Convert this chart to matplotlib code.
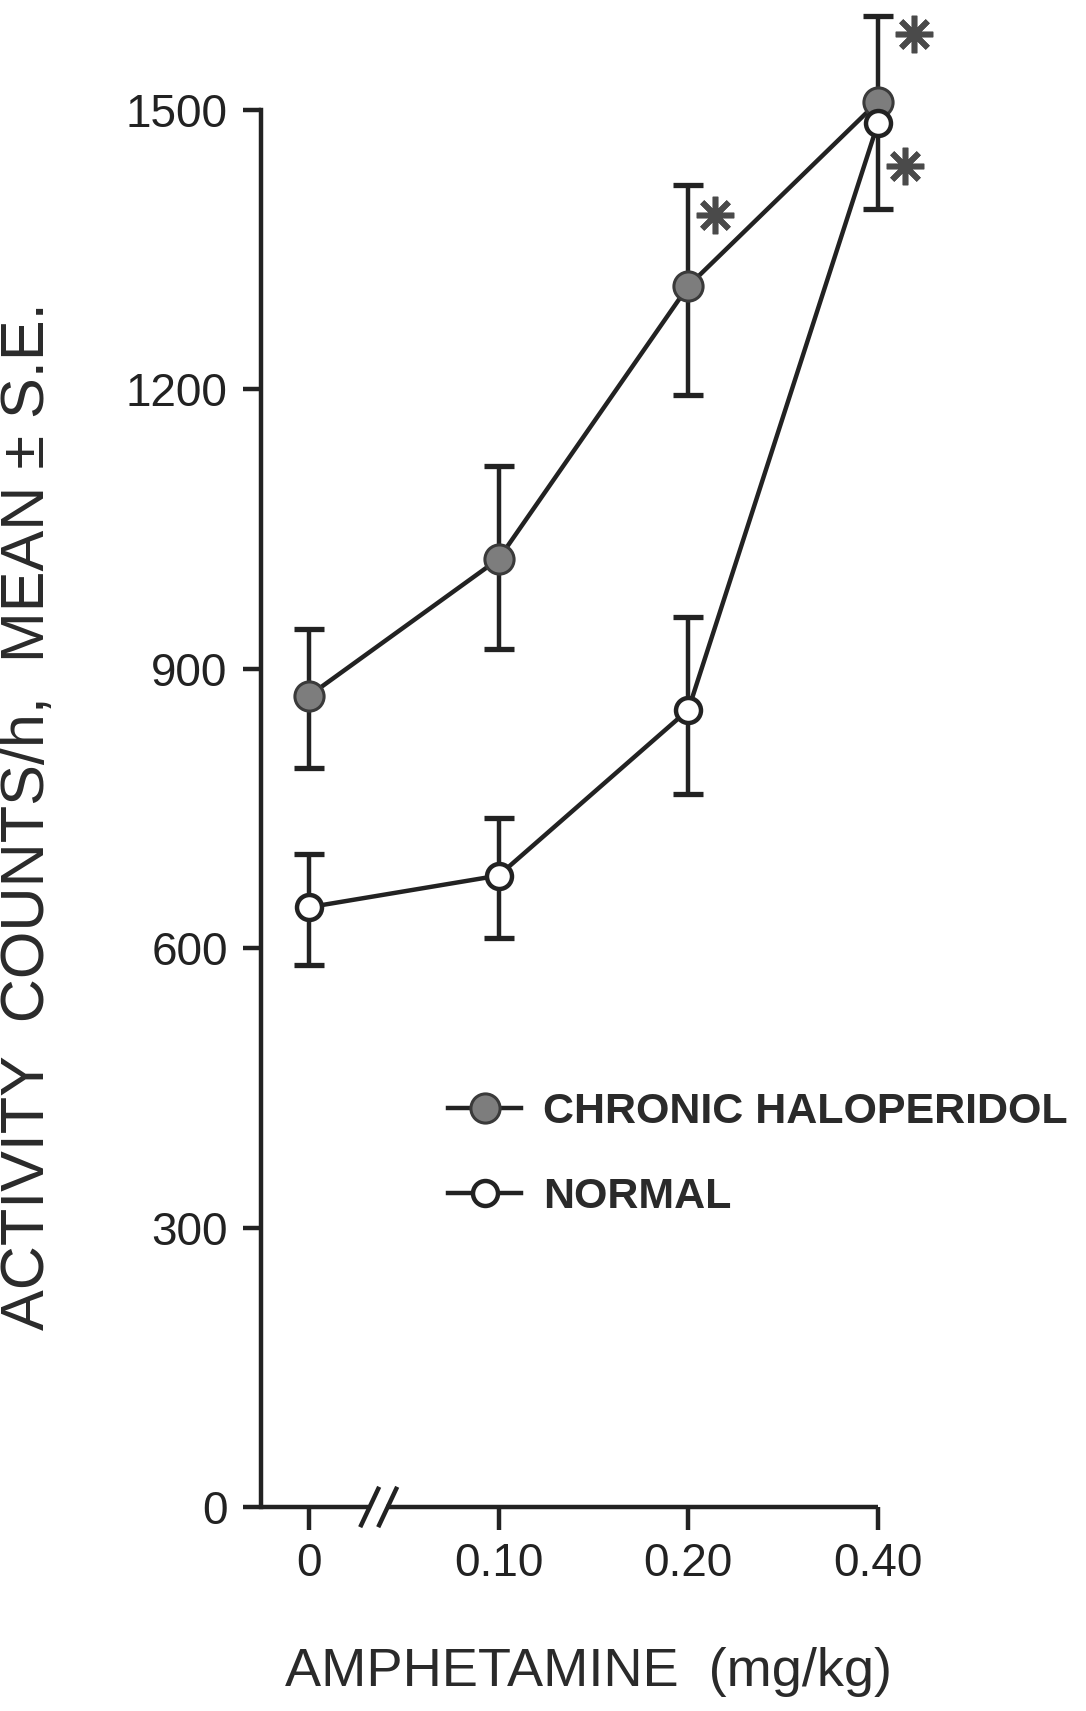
import matplotlib
matplotlib.use("Agg")
import matplotlib.pyplot as plt

plt.rcParams['font.family'] = ['Liberation Sans', 'DejaVu Sans']

# amphetamine doses (mg/kg), drawn at equal spacing
dose_labels = ['0', '0.10', '0.20', '0.40']
dose_pos = [0, 1, 2, 3]

# activity counts/h, mean and S.E.
chronic_mean = [871, 1018, 1311, 1509]
chronic_se_lo = [78, 97, 117, 0]
chronic_se_hi = [72, 100, 108, 92]

normal_mean = [644, 678, 856, 1486]
normal_se_lo = [62, 67, 90, 92]
normal_se_hi = [57, 62, 100, 0]

# significance asterisks
star_x = [2.14, 3.19, 3.14]
star_y = [1387, 1582, 1440]

ink = '#222222'
lw = 3.2

fig = plt.figure(figsize=(10.86, 17.11), dpi=100)
ax = fig.add_axes([261 / 1086, 1 - 1507 / 1711, (878 - 261) / 1086, (1507 - 110) / 1711])

def draw_bars(x, mean, lo, hi):
    for xi, m, l, h in zip(x, mean, lo, hi):
        if l > 0:
            ax.plot([xi, xi], [m - l, m], color=ink, lw=lw, solid_capstyle='butt', zorder=2, clip_on=False)
            ax.plot([xi], [m - l], marker='_', ms=22, mew=lw + 0.6, color=ink, zorder=2, clip_on=False)
        if h > 0:
            ax.plot([xi, xi], [m, m + h], color=ink, lw=lw, solid_capstyle='butt', zorder=2, clip_on=False)
            ax.plot([xi], [m + h], marker='_', ms=22, mew=lw + 0.6, color=ink, zorder=2, clip_on=False)

draw_bars(dose_pos, chronic_mean, chronic_se_lo, chronic_se_hi)
draw_bars(dose_pos, normal_mean, normal_se_lo, normal_se_hi)

h1, = ax.plot(dose_pos, chronic_mean, '-o', color=ink, lw=lw, ms=21,
              mfc='#7d7d7d', mec='#3a3a3a', mew=2.2, zorder=4, clip_on=False,
              label='CHRONIC HALOPERIDOL')
h2, = ax.plot(dose_pos, normal_mean, '-o', color=ink, lw=lw, ms=18,
              mfc='white', mec=ink, mew=3.2, zorder=5, clip_on=False,
              label='NORMAL')

ax.plot(star_x, star_y, linestyle='none', marker=(8, 2, 0), ms=27, mew=4.0,
        color='#4a4a4a', clip_on=False, zorder=6)

ax.set_xlim(-0.253, 3)
ax.set_ylim(0, 1500)

# axes
for s in ['top', 'right', 'bottom']:
    ax.spines[s].set_visible(False)
ax.spines['left'].set_linewidth(lw)
ax.spines['left'].set_color(ink)

# broken x axis
tr = ax.get_xaxis_transform()
ax.plot([-0.253, 0.315], [0, 0], color=ink, lw=lw, transform=tr, clip_on=False, solid_capstyle='butt')
ax.plot([0.405, 3], [0, 0], color=ink, lw=lw, transform=tr, clip_on=False, solid_capstyle='butt')
for bx in [0.32, 0.415]:
    ax.plot([bx - 0.045, bx + 0.045], [-0.013, 0.013], color=ink, lw=lw, transform=tr, clip_on=False)

ax.set_xticks(dose_pos)
ax.set_xticklabels(dose_labels)
ax.set_yticks([0, 300, 600, 900, 1200, 1500])
ax.tick_params(axis='x', direction='out', length=16.5, width=lw, color=ink,
               labelsize=33, labelcolor='#222222', pad=9)
ax.tick_params(axis='y', direction='out', length=13, width=lw, color=ink,
               labelsize=33, labelcolor='#222222', pad=11)

ax.set_ylabel('ACTIVITY  COUNTS/h,  MEAN \u00b1 S.E.', fontsize=44, color='#2a2a2a')
ax.yaxis.set_label_coords(-0.33, 0.4946)
ax.set_xlabel('AMPHETAMINE  (mg/kg)', fontsize=39, color='#2a2a2a')
ax.xaxis.set_label_coords(0.53, -0.10)

ax.legend(handles=[h1, h2], loc='upper left', bbox_to_anchor=(448 / 1086, 1 - 1092 / 1711),
          bbox_transform=fig.transFigure, frameon=False, borderpad=0, borderaxespad=0,
          handlelength=1.7, handletextpad=0.5, labelspacing=1.05,
          prop={'weight': 'bold', 'size': 31}, labelcolor='#2a2a2a')

fig.savefig('out.png', dpi=100, facecolor='white')
